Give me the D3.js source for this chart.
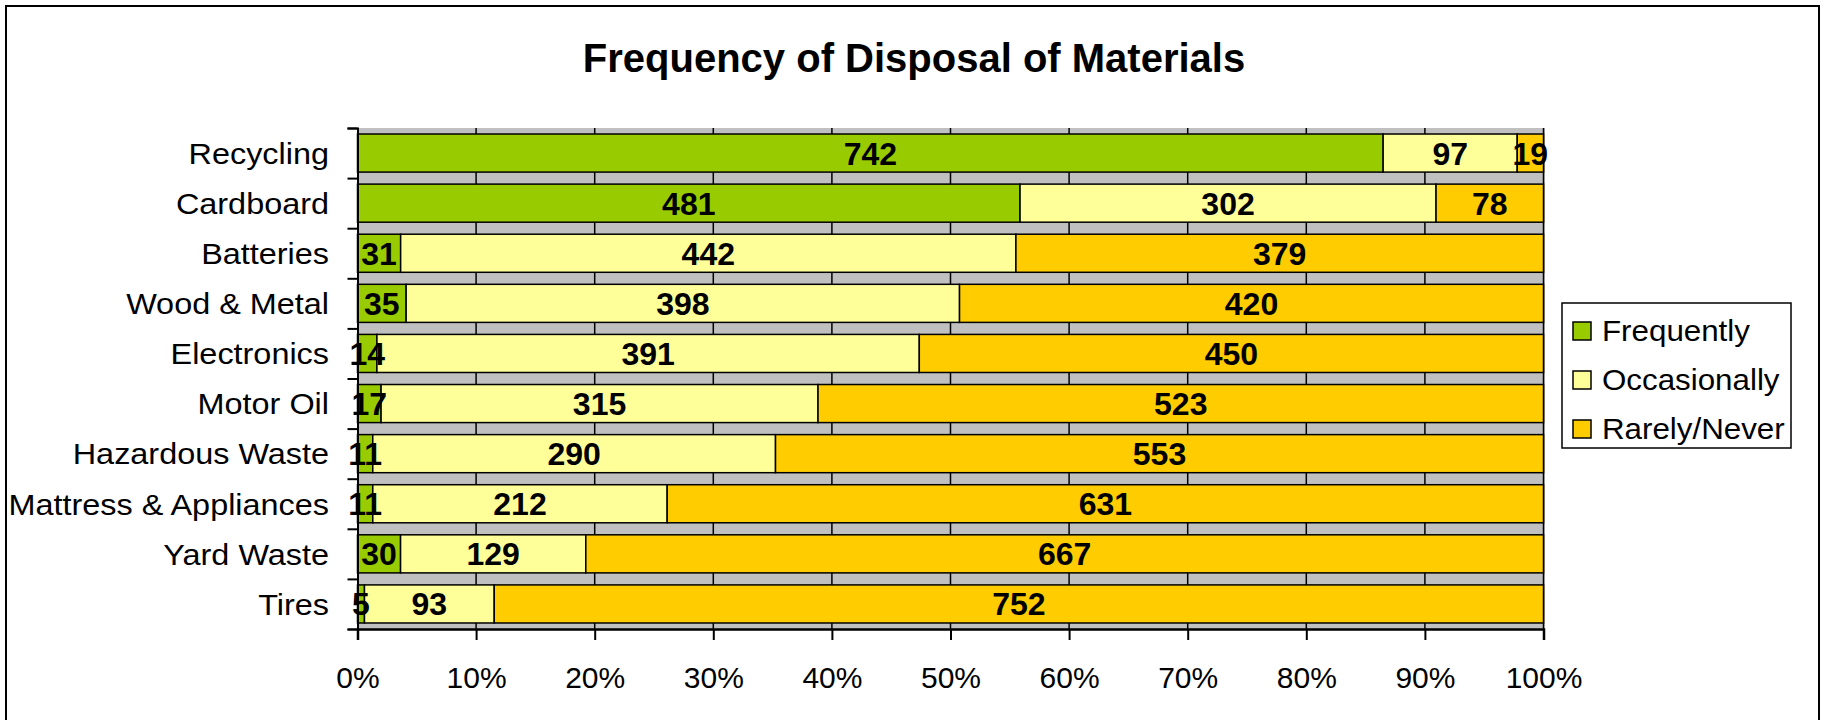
<!DOCTYPE html>
<html>
<head>
<meta charset="utf-8">
<script src="https://cdn.jsdelivr.net/npm/d3@7"></script>
<style>
  html, body { margin: 0; padding: 0; background: #fff; }
  svg { display: block; font-family: "Liberation Sans", Arial, sans-serif; }
</style>
</head>
<body>
<svg id="chart" width="1826" height="720"></svg>
<script>
const title = "Frequency of Disposal of Materials";
const categories = ["Recycling", "Cardboard", "Batteries", "Wood & Metal", "Electronics",
  "Motor Oil", "Hazardous Waste", "Mattress & Appliances", "Yard Waste", "Tires"];
const frequently   = [742, 481, 31, 35, 14, 17, 11, 11, 30, 5];
const occasionally = [97, 302, 442, 398, 391, 315, 290, 212, 129, 93];
const rarelyNever  = [19, 78, 379, 420, 450, 523, 553, 631, 667, 752];
const seriesNames  = ["Frequently", "Occasionally", "Rarely/Never"];
const seriesColors = ["#99CC00", "#FFFF99", "#FFCC00"];
const tickValues   = [0, 0.1, 0.2, 0.3, 0.4, 0.5, 0.6, 0.7, 0.8, 0.9, 1.0];

const svg = d3.select("#chart");
const M = { left: 357.5, right: 1543.5, top: 128, bottom: 629 };

// outer chart border
svg.append("rect").attr("x", 6).attr("y", 6).attr("width", 1813).attr("height", 740)
  .attr("fill", "#fff").attr("stroke", "#000").attr("stroke-width", 2);

// title
svg.append("text").attr("x", 914).attr("y", 71.5).attr("text-anchor", "middle")
  .attr("font-size", 40).attr("font-weight", "bold").text(title);

const rows = categories.map((c, i) => ({
  cat: c, Frequently: frequently[i], Occasionally: occasionally[i], "Rarely/Never": rarelyNever[i]
}));
const stacked = d3.stack().keys(seriesNames).offset(d3.stackOffsetExpand)(rows);

const x = d3.scaleLinear().domain([0, 1]).range([M.left, M.right]);
const y = d3.scaleBand().domain(categories).range([M.top, M.bottom])
  .paddingInner(0.24).paddingOuter(0.12);
const yIdx = d3.scaleLinear().domain([0, categories.length]).range([M.top, M.bottom]);
const color = d3.scaleOrdinal().domain(seriesNames).range(seriesColors);

// plot area
svg.append("rect").attr("x", M.left).attr("y", M.top)
  .attr("width", M.right - M.left + 1.5).attr("height", M.bottom - M.top)
  .attr("fill", "#C0C0C0");

// vertical gridlines
svg.append("g").selectAll("line").data(tickValues.slice(1)).join("line")
  .attr("x1", d => x(d)).attr("x2", d => x(d))
  .attr("y1", M.top).attr("y2", M.bottom)
  .attr("stroke", "#000").attr("stroke-width", 1.5);

// bars
const layers = svg.append("g").selectAll("g").data(stacked).join("g")
  .attr("fill", d => color(d.key));
layers.selectAll("rect").data(d => d).join("rect")
  .attr("x", d => x(d[0])).attr("width", d => x(d[1]) - x(d[0]))
  .attr("y", d => y(d.data.cat)).attr("height", y.bandwidth())
  .attr("stroke", "#000").attr("stroke-width", 1.5);

// data labels
const labels = svg.append("g");
stacked.forEach(s => {
  labels.selectAll(null).data(s).join("text")
    .attr("x", d => (x(d[0]) + x(d[1])) / 2)
    .attr("y", d => y(d.data.cat) + y.bandwidth() / 2)
    .attr("dy", "0.36em").attr("text-anchor", "middle")
    .attr("font-size", 32).attr("font-weight", "bold").attr("fill", "#000")
    .text(d => d.data[s.key]);
});

// left axis (ticks between categories)
const yAxis = svg.append("g").attr("transform", `translate(${M.left},0)`)
  .call(d3.axisLeft(yIdx).tickValues(d3.range(0, categories.length + 1)).tickFormat("").tickSize(10));
yAxis.select(".domain").attr("stroke-width", 2);
yAxis.selectAll(".tick line").attr("stroke-width", 2);

// category labels (slightly wide lettering, as in the original)
svg.append("g").selectAll("text").data(categories).join("text")
  .attr("transform", d => `translate(329,${y(d) + y.bandwidth() / 2}) scale(1.08,1)`)
  .attr("dy", "0.36em").attr("text-anchor", "end").attr("font-size", 30).text(d => d);

// bottom axis
const xAxis = svg.append("g").attr("transform", `translate(0,${M.bottom})`)
  .call(d3.axisBottom(x).tickValues(tickValues).tickFormat(d3.format(".0%")).tickSize(11).tickPadding(27));
xAxis.select(".domain").attr("stroke-width", 2.5);
xAxis.selectAll(".tick line").attr("stroke-width", 2);
xAxis.selectAll("text").attr("font-size", 30).attr("font-family", "Liberation Sans, Arial, sans-serif").attr("fill", "#000");

// legend
const lg = svg.append("g").attr("transform", "translate(1562,303)");
lg.append("rect").attr("width", 229).attr("height", 145).attr("fill", "#fff")
  .attr("stroke", "#000").attr("stroke-width", 1.5);
const item = lg.selectAll("g").data(seriesNames).join("g")
  .attr("transform", (d, i) => `translate(11,${28 + i * 49})`);
item.append("rect").attr("x", 0).attr("y", -9).attr("width", 18).attr("height", 18)
  .attr("fill", d => color(d)).attr("stroke", "#000").attr("stroke-width", 1.5);
item.append("text").attr("transform", "translate(29,0) scale(1.08,1)")
  .attr("dy", "0.36em").attr("font-size", 29).text(d => d);
</script>
</body>
</html>
